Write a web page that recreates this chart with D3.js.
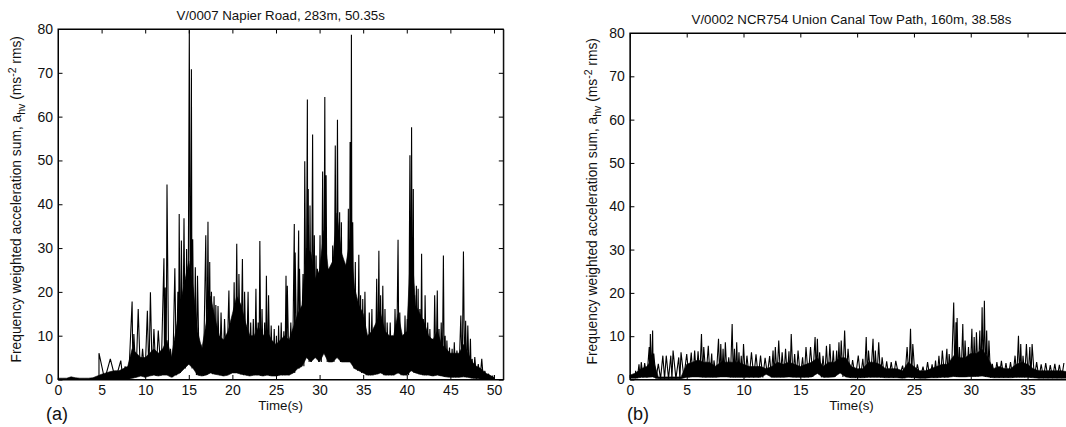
<!DOCTYPE html>
<html>
<head>
<meta charset="utf-8">
<script src="https://cdn.jsdelivr.net/npm/d3@7"></script>
<style>
  body { margin: 0; background: #fff; }
  svg { display: block; }
  text { font-family: "Liberation Sans", Arial, Helvetica, sans-serif; fill: #111; }
</style>
</head>
<body>
<svg id="chart" width="1066" height="427"></svg>
<script>
// Envelope of the dense rms trace, sampled every 0.5 s (dense black core + its lower edge)
const gridStep = 0.5;

// (a) V/0007 Napier Road
const coreA = [0.3,0.3,0.3,0.6,0.4,0.3,0.3,0.3,0.4,0.8, 1.2,1.5,1.8,2.0,2.0,2.5,3.0,7,6,5,
  5,6,7,6,7,9,5,11,17,22, 27,21,11,7,13,19,14,10,9,11, 15,19,17,13,10,10,12,10,11,9,
  8,9,10,9,12,15,17,30,29,23, 25,34,25,27,38,29,26,32,21,17, 15,10,11,13,15,11,10,10,15,10,
  11,32,17,15,13,10,9,11,8,7, 6,6,6,8,6,4,3,2.5,1.5,1, 0.5];
const lowA = [0,0,0,0,0,0,0,0,0,0, 0,0,0,0,0,0,0,0.3,0.5,0.8, 0.5,0.8,1,0.8,1,1,0.5,1,1.5,2.5,
  3.5,2.5,1,0.8,1,1.5,1.2,1,0.8,1, 1.5,1.5,1.2,1,0.8,1,1,0.8,1,0.8, 0.8,1,1,1,1.5,2.5,3,5,4,5,
  4,6,4,4,5,4,4,4,2.5,2, 1.5,1,1,1.2,1.5,1,1,1,1.5,1, 1,2,1.5,1.2,1,1,0.8,1,0.8,0.6,
  0.5,0.5,0.5,0.6,0.5,0.3,0.2,0.1,0.1,0.1, 0];
// individual peaks (time s, value)
const spikeTA = [4.7,6.0,7.2,7.7,8.5,8.7,9.2,9.7,10.25,10.6, 11.0,11.5,12.15,12.3,12.5,12.9,13.4,13.75,13.9,14.15,
  14.45,14.75,15.06,15.3,15.45,15.75,16.0,16.4,16.95,17.2, 17.4,17.6,17.9,18.1,18.35,18.7,19.1,19.6,19.9,20.2,
  20.5,20.75,21.15,21.4,21.8,22.1,22.4,22.7,22.95,23.15, 23.4,23.7,23.9,24.15,24.45,24.8,25.05,25.3,25.6,25.9,
  26.15,26.3,26.7,27.1,27.2,27.6,27.7,28.1,28.3,28.6, 28.7,28.9,29.2,29.4,29.6,29.75,30.05,30.35,30.6,30.75,
  31.0,31.3,31.5,31.8,32.05,32.3,32.5,32.75,33.0,33.3, 33.5,33.65,33.8,34.1,34.25,34.5,34.7,34.95,35.2,35.5,
  35.7,36.0,36.25,36.55,36.8,37.0,37.25,37.5,37.75,38.1, 38.4,38.65,39.0,39.2,39.5,39.8,40.06,40.36,40.55,40.75,
  40.9,41.1,41.3,41.5,41.7,41.9,42.1,42.4,42.65,42.95, 43.2,43.5,43.7,43.95,44.2,44.4,44.6,44.9,45.2,45.45,
  45.75,46.2,46.5,46.75,47.0,47.3,47.5,47.8,48.2,48.6, 48.95,49.35,49.9];
const spikeVA = [6,4.7,4.3,3,17.8,10.4,16.1,7,15.7,19.9, 11.5,11.2,27.7,21,44.5,7,25.4,20,37.8,31.7,
  36.8,29.8,79.7,70.8,32,25.6,23.7,8,32.9,36, 26.8,20,19,17,16.8,15.3,13.8,20.3,13.8,22.2,
  31,24.1,27.5,20,20,13,13.8,20.7,13,31.6, 16.1,13,23.7,19.2,12.3,11.5,10,12.3,13,11,
  23.7,21.4,13,35.5,29,34,25.3,24.1,49.8,63.9, 43.5,39.7,55.9,32.9,28.3,25.3,32.9,47.5,64.5,46.6,
  25.3,25.6,30.6,53.4,59.3,38.2,35.9,26.8,25.3,39, 54.2,78.7,35.9,26.8,13,28.5,19.2,18.4,20,9.3,
  15.3,16.1,7.7,23,29.4,19.2,21.4,16.1,13,13, 10,16.1,31.9,15.3,10,14.6,13.8,51.2,57.6,43.5,
  19.2,21.4,20.7,16.1,28.7,13.8,19.2,13,11.5,9.3, 19.2,20.3,11.5,13,28.3,10,8.9,7.3,7,8.5,
  6.6,14.6,29.2,13.4,12.3,9.3,4.7,5.1,3.5,4.7, 2,1.3,0.9];

// (b) V/0002 NCR754 Union Canal Tow Path
const coreB = [1.0,1.5,2.5,3,5,0.6,0.6,0.6,0.6,0.6, 3.5,4,4.5,4,4,3,4,4,4,4,
  3.5,3,3,3,2.5,3,4,3.5,4,3.5, 3,3.5,4,5,3,4,4,5,5,3,
  2.5,2.5,4,4,3.5,2.5,2.5,2.5,2,4, 3,2,2,2.5,3,3.5,3.5,5.5,5,5,
  6,6,7,5,2.5,3,2.5,2.5,3.5,4, 3.5,2.5,2,2,2,2,2,1.8];
const lowB = [0.3,0.3,0.5,0.5,0.6,0.2,0.2,0.2,0.2,0.2, 0.5,0.6,0.6,0.5,0.5,0.5,0.6,0.6,0.5,0.5,
  0.5,0.5,0.5,0.5,1.2,0.5,0.5,0.5,0.6,0.5, 0.5,0.5,0.6,1.4,0.5,0.5,0.6,1.5,0.6,0.4, 0.4,0.4,0.5,0.5,0.5,0.4,0.4,0.4,0.3,0.5,
  0.4,0.3,0.3,0.4,0.4,0.5,0.5,0.7,0.6,0.6, 0.7,0.7,0.8,0.6,0.4,0.4,0.4,0.4,0.5,0.5, 0.5,0.4,0.3,0.3,0.3,0.3,0.3,0.3];
const spikeTB = [0.5,0.8,1.0,1.3,1.7,1.8,2.0,2.1,2.5,2.9, 3.2,3.6,3.8,4.3,4.5,5.0,5.4,5.7,6.0,6.3,
  6.5,6.9,7.2,7.4,7.8,8.0,8.2,8.4,8.7,9.0, 9.2,9.4,9.6,9.8,10.0,10.3,10.7,11.1,11.5,11.9,
  12.3,12.6,12.8,13.1,13.4,13.7,14.0,14.2,14.5,14.8, 15.2,15.5,15.9,16.3,16.5,16.7,17.0,17.3,17.6,17.9,
  18.2,18.4,18.6,18.9,19.2,19.6,20.1,20.5,20.8,21.0, 21.4,21.6,21.9,22.2,22.6,23.0,23.4,24.0,24.4,24.7,
  24.9,25.3,25.8,26.2,26.6,26.9,27.2,27.5,27.9,28.1, 28.5,28.7,28.8,29.0,29.3,29.5,29.8,30.1,30.3,30.5,
  30.8,31.0,31.2,31.4,31.6,31.9,32.3,32.7,33.1,33.5, 33.9,34.2,34.4,34.6,34.9,35.2,35.4,35.8,36.2,36.6,
  37.0,37.4,37.8,38.2];
const spikeVB = [2,3.5,4,3.8,7.5,10.5,11.3,6,3.6,5.5, 5.5,5.5,6.7,5.1,6.3,5.9,6.2,6.7,6.5,10.5,
  7.5,7.8,6,4.4,9.4,8.2,7.1,8.6,5.1,12.8, 7.1,8.6,6.3,5.5,8.2,5.5,6.3,5.8,5.5,5,
  5.4,6.7,7.5,9,6.3,7.1,6.5,10.5,5.9,6.7, 5.1,7.5,7.5,9.8,9.4,6.3,5.5,7.8,8.2,6.7,
  6.7,8.6,9,11.3,7.1,4.5,5.5,4.8,9.8,6.7, 9.4,6.7,8.6,5.1,4.2,4,4.3,3.2,7.5,11.7,
  8.2,3.5,3,4,3.5,4.4,5.5,6.7,7.1,5.9, 17.8,13.2,14.2,7.5,12.8,9,7.5,11.7,9.8,10.9,
  11.3,16.7,18.2,11.3,9,3.6,4,4.3,3.8,4, 5.5,10.1,8.2,5.5,8.2,7.5,8.2,4,3.5,3.8,
  3.3,3.6,3.4,3.8];

const yTicks = [0, 10, 20, 30, 40, 50, 60, 70, 80];
const xTicksA = [0, 5, 10, 15, 20, 25, 30, 35, 40, 45, 50];
const xTicksB = [0, 5, 10, 15, 20, 25, 30, 35];

const panels = [
  { title: 'V/0007 Napier Road, 283m, 50.35s', tag: '(a)', xMax: 51.07,
    left: 58, right: 503.3, top: 29, bottom: 379.5, labelX: 21, tagX: 46,
    core: coreA, low: lowA, spikeT: spikeTA, spikeV: spikeVA, xTicks: xTicksA },
  { title: 'V/0002 NCR754 Union Canal Tow Path, 160m, 38.58s', tag: '(b)', xMax: 39,
    left: 629.9, right: 1073, top: 33, bottom: 379.5, labelX: 597, tagX: 627,
    core: coreB, low: lowB, spikeT: spikeTB, spikeV: spikeVB, xTicks: xTicksB }
];

const svg = d3.select('#chart');
const tick = 4.5;

panels.forEach(p => {
  const x = d3.scaleLinear().domain([0, p.xMax]).range([p.left, p.right]);
  const y = d3.scaleLinear().domain([0, 80]).range([p.bottom, p.top]);
  const g = svg.append('g');
  const lowAt = t => p.low[Math.min(p.low.length - 1, Math.round(t / gridStep))];

  // dense core of the trace
  const area = d3.area()
    .x((d, i) => x(i * gridStep))
    .y0((d, i) => y(p.low[i]))
    .y1(d => y(d));
  g.append('path')
    .datum(p.core)
    .attr('d', area)
    .attr('fill', '#000')
    .attr('stroke', '#000')
    .attr('stroke-width', 0.6);

  // trace through the peaks, dropping to the lower edge between them
  const pts = [[p.spikeT[0], lowAt(p.spikeT[0])]];
  p.spikeT.forEach((t, i) => {
    pts.push([t, p.spikeV[i]]);
    if (i < p.spikeT.length - 1) {
      const tm = (t + p.spikeT[i + 1]) / 2;
      pts.push([tm, lowAt(tm)]);
    }
  });
  g.append('path')
    .datum(pts)
    .attr('d', d3.line().x(d => x(d[0])).y(d => y(d[1])))
    .attr('fill', 'none')
    .attr('stroke', '#000')
    .attr('stroke-width', 1.1)
    .attr('stroke-linejoin', 'miter')
    .attr('stroke-miterlimit', 2);

  // axes, ticks pointing inward
  const fmt = d3.format('d');
  g.append('g')
    .attr('transform', `translate(0,${p.bottom})`)
    .call(d3.axisBottom(x).tickValues(p.xTicks).tickFormat(fmt).tickSizeInner(-tick).tickSizeOuter(0).tickPadding(6));
  g.append('g')
    .attr('transform', `translate(${p.left},0)`)
    .call(d3.axisLeft(y).tickValues(yTicks).tickFormat(fmt).tickSizeInner(-tick).tickSizeOuter(0).tickPadding(5));
  g.append('g')
    .attr('transform', `translate(0,${p.top})`)
    .call(d3.axisTop(x).tickValues(p.xTicks).tickFormat('').tickSizeInner(-tick).tickSizeOuter(0));
  g.append('g')
    .attr('transform', `translate(${p.right},0)`)
    .call(d3.axisRight(y).tickValues(yTicks).tickFormat('').tickSizeInner(-tick).tickSizeOuter(0));

  g.selectAll('.domain').attr('stroke', '#000');
  g.selectAll('.tick line').attr('stroke', '#000');
  g.selectAll('.tick text').attr('font-size', 14).attr('font-family', '"Liberation Sans", Arial, sans-serif').attr('fill', '#111');

  // frame
  g.append('rect')
    .attr('x', p.left).attr('y', p.top)
    .attr('width', p.right - p.left).attr('height', p.bottom - p.top)
    .attr('fill', 'none').attr('stroke', '#000').attr('stroke-width', 1);

  // title
  g.append('text')
    .attr('x', (p.left + p.right) / 2)
    .attr('y', p.top - 9.5)
    .attr('text-anchor', 'middle')
    .attr('font-size', 13.3)
    .text(p.title);

  // x label
  g.append('text')
    .attr('x', (p.left + p.right) / 2)
    .attr('y', 410)
    .attr('text-anchor', 'middle')
    .attr('font-size', 13.3)
    .text('Time(s)');

  // y label
  const yl = g.append('text')
    .attr('transform', `translate(${p.labelX},${(p.top + p.bottom) / 2 - 5}) rotate(-90)`)
    .attr('text-anchor', 'middle')
    .attr('font-size', 13.8);
  yl.append('tspan').text('Frequency weighted acceleration sum, a');
  yl.append('tspan').attr('dy', 4).attr('font-size', 10.5).text('hv');
  yl.append('tspan').attr('dy', -4).text(' (ms');
  yl.append('tspan').attr('dy', -5).attr('font-size', 10.5).text('-2');
  yl.append('tspan').attr('dy', 5).text(' rms)');

  // panel tag
  g.append('text')
    .attr('x', p.tagX)
    .attr('y', 420)
    .attr('font-size', 18)
    .text(p.tag);
});
</script>
</body>
</html>
